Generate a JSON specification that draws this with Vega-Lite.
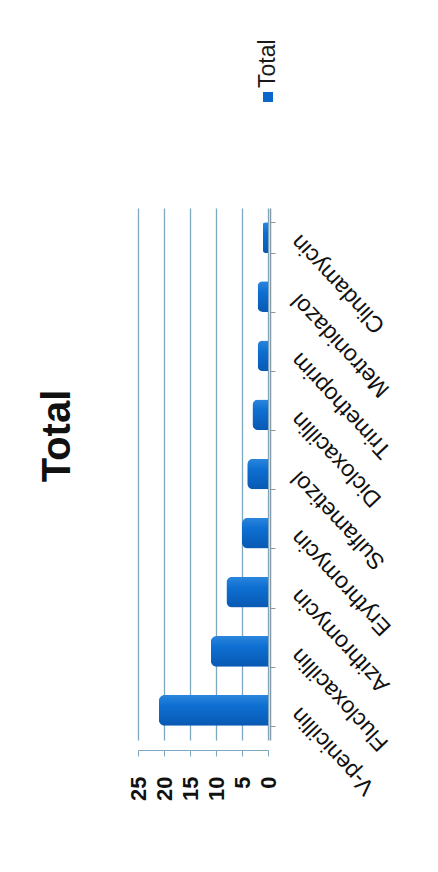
{
  "$schema": "https://vega.github.io/schema/vega-lite/v6.json",
  "padding": {"left": 38, "top": 5, "right": 5, "bottom": 5},
  "background": "white",
  "config": {"font": "Liberation Sans", "view": {"stroke": null}},
  "spacing": 10,
  "resolve": {"scale": {"x": "independent", "y": "independent"}},
  "vconcat": [
    {
      "width": 130,
      "height": 184,
      "data": {"values": [{"series": "Total"}]},
      "encoding": {
        "x": {"field": "series", "type": "nominal", "scale": {"type": "point", "align": 1, "padding": 0}, "axis": null}
      },
      "layer": [
        {"mark": {"type": "square", "size": 100, "color": "#0b67c9", "opacity": 1}},
        {
          "mark": {"type": "text", "angle": 270, "align": "left", "baseline": "middle", "dx": 9, "fontSize": 23, "color": "#1a1a1a"},
          "encoding": {"text": {"field": "series"}}
        }
      ]
    },
    {
      "width": 130,
      "height": 532,
      "title": {"text": "Total", "orient": "left", "fontSize": 40, "fontWeight": "bold", "offset": 49, "dx": 38, "color": "#111111"},
      "data": {
        "values": [
          {"drug": "V-penicillin", "count": 21},
          {"drug": "Flucloxacillin", "count": 11},
          {"drug": "Azithromycin", "count": 8},
          {"drug": "Erythromycin", "count": 5},
          {"drug": "Sulfametizol", "count": 4},
          {"drug": "Dicloxacillin", "count": 3},
          {"drug": "Trimethoprim", "count": 2},
          {"drug": "Metronidazol", "count": 2},
          {"drug": "Clindamycin", "count": 1}
        ]
      },
      "mark": {
        "type": "bar",
        "cornerRadiusTopLeft": 6,
        "cornerRadiusBottomLeft": 6,
        "color": {
          "gradient": "linear",
          "x1": 0, "y1": 0, "x2": 0, "y2": 1,
          "stops": [
            {"offset": 0, "color": "#2b86dc"},
            {"offset": 0.35, "color": "#0e6fd2"},
            {"offset": 1, "color": "#0859b2"}
          ]
        }
      },
      "encoding": {
        "y": {
          "field": "drug",
          "type": "nominal",
          "sort": ["Clindamycin", "Metronidazol", "Trimethoprim", "Dicloxacillin", "Sulfametizol", "Erythromycin", "Azithromycin", "Flucloxacillin", "V-penicillin"],
          "scale": {"paddingInner": 0.48, "paddingOuter": 0.24},
          "axis": {
            "orient": "right",
            "title": null,
            "labelAngle": 227,
            "labelAlign": "right",
            "labelBaseline": "middle",
            "labelFontSize": 23,
            "labelColor": "#111111",
            "labelPadding": 20,
            "labelLimit": 300,
            "tickBand": "extent",
            "tickSize": 5,
            "tickColor": "#8a9aa5",
            "domainColor": "#8a9aa5",
            "domainWidth": 1.5,
            "offset": 2
          }
        },
        "x": {
          "field": "count",
          "type": "quantitative",
          "scale": {"domain": [0, 25], "reverse": true, "nice": false},
          "axis": {
            "values": [0, 5, 10, 15, 20, 25],
            "title": null,
            "labelAngle": 270,
            "labelAlign": "right",
            "labelBaseline": "middle",
            "labelFontSize": 22,
            "labelFontWeight": "bold",
            "labelColor": "#111111",
            "labelPadding": 20,
            "tickSize": 6,
            "offset": 10,
            "grid": true,
            "gridColor": "#7ea8c2",
            "gridWidth": 1.3,
            "domainColor": "#7ea8c2",
            "tickColor": "#7ea8c2"
          }
        }
      }
    }
  ]
}
